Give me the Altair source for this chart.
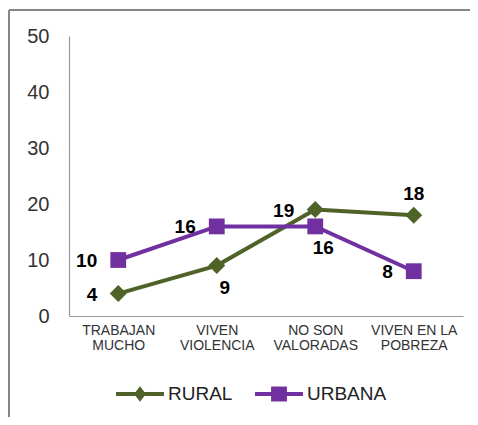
import altair as alt
import pandas as pd

categories = ["TRABAJAN\nMUCHO", "VIVEN\nVIOLENCIA", "NO SON\nVALORADAS", "VIVEN EN LA\nPOBREZA"]
series = ["RURAL", "URBANA"]
rural = [4, 9, 19, 18]
urbana = [10, 16, 16, 8]
colors = ["#4F6228", "#7030A0"]
y_ticks = [0, 10, 20, 30, 40, 50]

rows = []
for s, vals in zip(series, [rural, urbana]):
    for i, (c, v) in enumerate(zip(categories, vals)):
        rows.append({"cat": c, "i": i, "serie": s, "valor": v})
df = pd.DataFrame(rows)

FONT = "Liberation Sans"

x_enc = alt.X(
    "cat:N",
    sort=categories,
    scale=alt.Scale(domain=categories),
    axis=alt.Axis(
        title=None,
        labelAngle=0,
        labelExpr="split(datum.label, '\\n')",
        labelFont=FONT,
        labelFontSize=14,
        labelLineHeight=15,
        labelColor="#333333",
        labelPadding=7,
        ticks=False,
        domainColor="#9a9a9a",
        domainWidth=1.2,
        grid=False,
    ),
)
y_enc = alt.Y(
    "valor:Q",
    scale=alt.Scale(domain=[0, 50], nice=False),
    axis=alt.Axis(
        title=None,
        values=y_ticks,
        labelFont=FONT,
        labelFontSize=20,
        labelColor="#333333",
        labelPadding=20,
        ticks=False,
        domainColor="#9a9a9a",
        domainWidth=1.2,
        grid=False,
    ),
)

base = alt.Chart(df)

layers = []
shapes = ["diamond", "square"]
sizes = [290, 250]
for s, col, shp, sz in zip(series, colors, shapes, sizes):
    sub = base.transform_filter(alt.datum.serie == s)
    layers.append(sub.mark_line(color=col, strokeWidth=4).encode(x=x_enc, y=y_enc))
    layers.append(sub.mark_point(filled=True, opacity=1, color=col, shape=shp, size=sz).encode(x=x_enc, y=y_enc))

# legend carrier
diamond_path = ("M -1 -0.08 L 1 -0.08 L 1 0.08 L -1 0.08 Z "
                "M 0 -0.32 L 0.25 0 L 0 0.32 L -0.25 0 Z")
square_path = ("M -1 -0.08 L 1 -0.08 L 1 0.08 L -1 0.08 Z "
               "M -0.33 -0.31 L 0.33 -0.31 L 0.33 0.31 L -0.33 0.31 Z")
leg = alt.Legend(
    title=None,
    orient="none",
    direction="horizontal",
    legendX=47,
    legendY=334,
    symbolSize=2304,
    symbolOpacity=1,
    symbolStrokeWidth=0,
    labelFont=FONT,
    labelFontSize=19,
    labelColor="#222222",
    labelOffset=4,
    columnPadding=22,
    padding=0,
)
legend_layer = base.mark_point(filled=True, opacity=0).encode(
    x=x_enc,
    y=y_enc,
    color=alt.Color("serie:N", scale=alt.Scale(domain=series, range=colors), legend=leg),
    shape=alt.Shape("serie:N", scale=alt.Scale(domain=series, range=[diamond_path, square_path]), legend=leg),
)
layers.append(legend_layer)

# data labels
txt = dict(font=FONT, fontSize=19, fontWeight="bold", color="#000000", baseline="middle")
left_f = "(datum.serie=='RURAL' && (datum.i==0 || datum.i==2)) || (datum.serie=='URBANA' && datum.i!=2)"
below_f = "(datum.serie=='RURAL' && datum.i==1) || (datum.serie=='URBANA' && datum.i==2)"
above_f = "datum.serie=='RURAL' && datum.i==3"
layers.append(base.transform_filter(left_f).mark_text(align="right", dx=-21, dy=1, **txt)
              .encode(x=x_enc, y=y_enc, text="valor:Q"))
layers.append(base.transform_filter(below_f).mark_text(align="center", dx=8, dy=22, **txt)
              .encode(x=x_enc, y=y_enc, text="valor:Q"))
layers.append(base.transform_filter(above_f).mark_text(align="center", dx=0, dy=-21, **txt)
              .encode(x=x_enc, y=y_enc, text="valor:Q"))

# outer frame
frame_top = alt.Chart(pd.DataFrame({"k": [0]})).mark_rule(color="#868686", strokeWidth=2).encode(
    x=alt.value(-60), x2=alt.value(420), y=alt.value(-26))
frame_left = alt.Chart(pd.DataFrame({"k": [0]})).mark_rule(color="#868686", strokeWidth=2).encode(
    x=alt.value(-60), y=alt.value(-26), y2=alt.value(400))

chart = alt.layer(frame_top, frame_left, *layers).properties(
    width=394,
    height=280,
    padding={"left": 61, "top": 28, "right": 7, "bottom": 101},
    autosize=alt.AutoSizeParams(type="none"),
    background="white",
).configure_view(stroke=None)

chart.save("out.html", embed_options={"renderer": "svg", "actions": False})
